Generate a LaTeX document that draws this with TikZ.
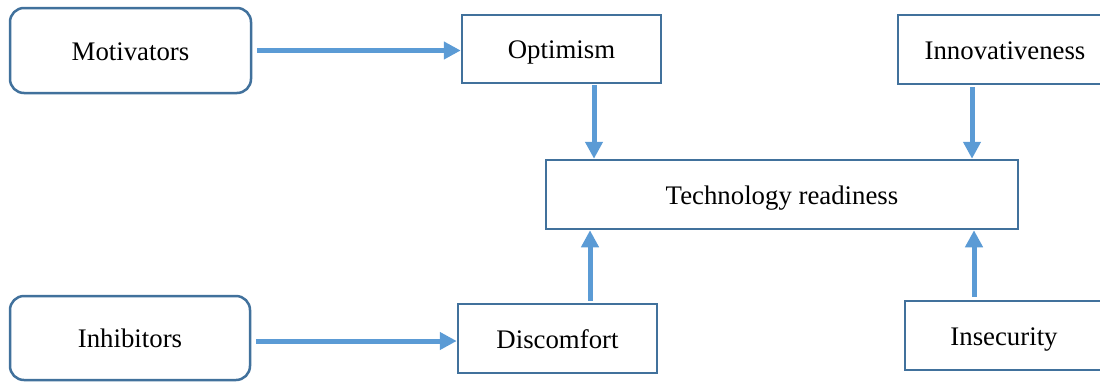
\documentclass[tikz,border=0pt]{standalone}
\usepackage{fontspec}
\setmainfont{Liberation Serif}
\usetikzlibrary{arrows.meta,calc}
\definecolor{boxline}{HTML}{41719C}
\definecolor{arrowc}{HTML}{5B9BD5}
\begin{document}
\begin{tikzpicture}[x=1pt,y=1pt,
  box/.style={draw=boxline,line width=2.5pt,fill=white,inner sep=0pt,text height=19pt,text depth=0pt,font=\fontsize{26.8}{30}\selectfont},
  rbox/.style={box,rounded corners=14pt},
  arr/.style={draw=arrowc,line width=5pt,-{Triangle[length=17pt,width=17pt]}}]
\useasboundingbox (0,0) rectangle (1100,-381);
\node[rbox,minimum width=241,minimum height=85] (mot) at (130.5,-50.5) {Motivators};
\node[rbox,minimum width=240,minimum height=84] (inh) at (130,-338) {Inhibitors};
\node[box,minimum width=199,minimum height=68] (opt) at (561.5,-49) {Optimism};
\node[box,minimum width=199,minimum height=69] (dis) at (557.5,-338.5) {Discomfort};
\node[box,minimum width=472,minimum height=69] (tr) at (782,-194.5) {Technology readiness};
\node[box,minimum width=214,minimum height=69] (inn) at (1005,-49.5) {Innovativeness};
\node[box,minimum width=198,minimum height=69] (ins) at (1004,-335.5) {Insecurity};
\draw[arr] ([xshift=5pt]mot.east) -- (mot.east -| opt.west);
\draw[arr] ([xshift=5pt,yshift=-3pt]inh.east) -- ([yshift=-3pt]inh.east -| dis.west);
\draw[arr] ([xshift=32.5pt,yshift=-1pt]opt.south) -- ([xshift=32.5pt]opt.south |- tr.north);
\draw[arr] ([xshift=-33pt,yshift=-2pt]inn.south) -- ([xshift=-33pt]inn.south |- tr.north);
\draw[arr] ([xshift=32.5pt,yshift=2pt]dis.north) -- ([xshift=32.5pt]dis.north |- tr.south);
\draw[arr] ([xshift=-30pt,yshift=3pt]ins.north) -- ([xshift=-30pt]ins.north |- tr.south);
\end{tikzpicture}
\end{document}
